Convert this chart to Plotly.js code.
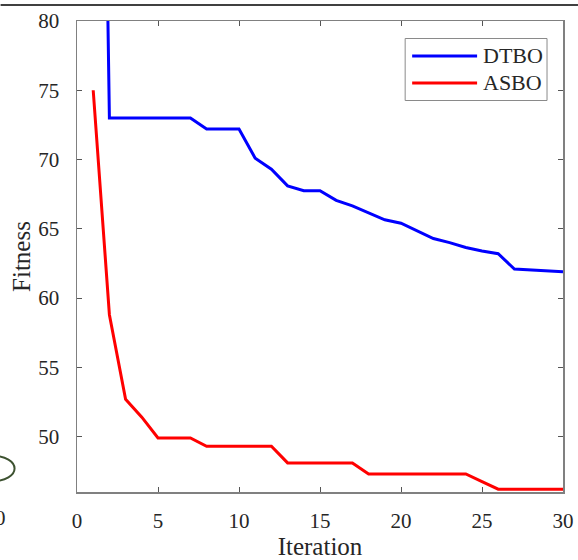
<!DOCTYPE html>
<html>
<head>
<meta charset="utf-8">
<script src="https://cdn.plot.ly/plotly-3.0.1.min.js"></script>
<style>html,body{margin:0;padding:0;background:#fff;}#chart{width:578px;height:560px;}</style>
</head>
<body>
<div id="chart"></div>
<script>
const iterations = [1,2,3,4,5,6,7,8,9,10,11,12,13,14,15,16,17,18,19,20,21,22,23,24,25,26,27,28,29,30];
const dtbo = [150,73.0,73.0,73.0,73.0,73.0,73.0,72.2,72.2,72.2,70.1,69.3,68.1,67.75,67.75,67.05,66.65,66.15,65.65,65.4,64.85,64.3,64.0,63.65,63.4,63.2,62.1,62.05,62.0,61.9];
const asbo = [75.0,58.8,52.7,51.4,49.9,49.9,49.9,49.3,49.3,49.3,49.3,49.3,48.1,48.1,48.1,48.1,48.1,47.3,47.3,47.3,47.3,47.3,47.3,47.3,46.75,46.2,46.2,46.2,46.2,46.2];
const seriesNames = ['DTBO','ASBO'];
const seriesColors = ['#0000ff','#ff0000'];
const xTicks = [0,5,10,15,20,25,30];
const yTicks = [50,55,60,65,70,75,80];

const font = 'Liberation Serif, Times New Roman, serif';
const traces = [
  {x: iterations, y: dtbo, name: seriesNames[0], mode: 'lines', line: {color: seriesColors[0], width: 3}, showlegend: false},
  {x: iterations, y: asbo, name: seriesNames[1], mode: 'lines', line: {color: seriesColors[1], width: 3}, showlegend: false}
];
const L = 76.5, R = 15, T = 21, B = 68;
const W = 578 - L - R, H = 560 - T - B;
const px = v => (v - L) / W;         // page x pixel -> paper
const py = v => (560 - B - v) / H;   // page y pixel -> paper

const shapes = [
  {type: 'line', xref: 'paper', yref: 'paper', x0: px(0), x1: px(578),
    y0: py(5), y1: py(5), line: {color: '#000', width: 1.5}},
  {type: 'circle', xref: 'paper', yref: 'paper', x0: px(-28), x1: px(14),
    y0: py(481), y1: py(456), line: {color: '#3d5230', width: 2}},
  // legend box
  {type: 'rect', xref: 'paper', yref: 'paper', x0: px(405), x1: px(547), y0: py(100.5), y1: py(38.5),
    line: {color: '#8a8a8a', width: 1}, fillcolor: '#fff', layer: 'above'}
];
const annotations = [
  {text: '0', xref: 'paper', yref: 'paper', x: px(0), y: py(518),
    xanchor: 'center', yanchor: 'middle', showarrow: false,
    font: {family: font, size: 21, color: '#262626'}}
];
const legendRows = [56, 83];
seriesNames.forEach((n, i) => {
  shapes.push({type: 'line', xref: 'paper', yref: 'paper', x0: px(412), x1: px(477),
    y0: py(legendRows[i]), y1: py(legendRows[i]), line: {color: seriesColors[i], width: 3}, layer: 'above'});
  annotations.push({text: n, xref: 'paper', yref: 'paper', x: px(481), y: py(legendRows[i]),
    xanchor: 'left', yanchor: 'middle', showarrow: false,
    font: {family: font, size: 22, color: '#262626'}});
});

const layout = {
  width: 578, height: 560,
  margin: {l: L, r: R, t: T, b: B, pad: 0},
  paper_bgcolor: '#fff', plot_bgcolor: '#fff',
  font: {family: font, size: 21, color: '#262626'},
  showlegend: false,
  xaxis: {range: [0, 30], tickvals: xTicks, ticks: 'inside', ticklen: 5, tickcolor: '#555',
    showline: true, linecolor: '#808080', linewidth: 1.5, mirror: 'ticks', showgrid: false, zeroline: false,
    ticklabelstandoff: 9, tickfont: {family: font, size: 21, color: '#262626'},
    title: {text: 'Iteration', font: {family: font, size: 25, color: '#262626'}, standoff: 8}},
  yaxis: {range: [46, 80], tickvals: yTicks, ticks: 'inside', ticklen: 5, tickcolor: '#555',
    showline: true, linecolor: '#808080', linewidth: 1.5, mirror: 'ticks', showgrid: false, zeroline: false,
    ticklabelstandoff: 12, tickfont: {family: font, size: 21, color: '#262626'},
    title: {text: 'Fitness', font: {family: font, size: 25, color: '#262626'}, standoff: 0}},
  shapes: shapes,
  annotations: annotations
};
Plotly.newPlot('chart', traces, layout, {displayModeBar: false, staticPlot: true});
</script>
</body>
</html>
